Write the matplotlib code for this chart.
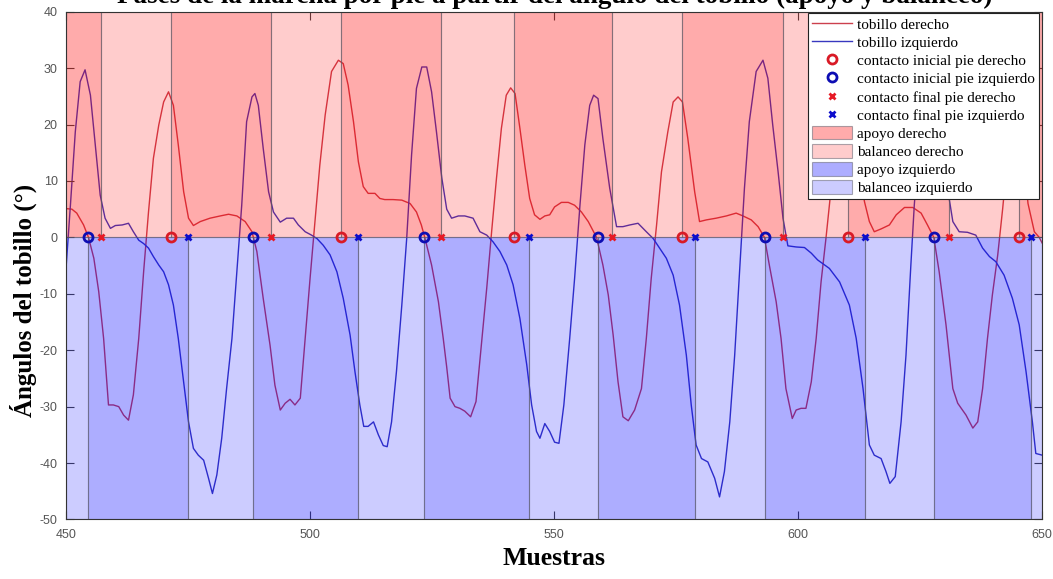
import matplotlib
matplotlib.use('Agg')
import matplotlib.pyplot as plt

plt.rcParams['axes.unicode_minus'] = False

# ankle angle, right foot (sample, degrees)
der_x = [450, 451.2, 452.2, 453.6, 454.6, 455.7, 456.7, 457.7, 458.7, 459.7,
         460.8, 461.8, 462.8, 463.8, 464.9, 465.9, 466.9, 467.9, 469.0, 470.0,
         471.0, 472.0, 473.0, 474.1, 475.1, 476.1, 477.5, 479.5, 481.6, 483.3,
         485.0, 486.7, 488.1, 489.1, 490.4, 491.8, 492.8, 493.9, 494.9, 495.9,
         496.9, 498.0, 499.0, 500.0, 501.0, 502.0, 503.1, 504.4, 505.8, 506.8,
         507.8, 508.9, 509.9, 510.9, 511.9, 513.3, 514.3, 515.3, 517.0, 518.8,
         520.5, 521.8, 522.8, 523.5, 524.9, 526.3, 527.3, 528.0, 528.7, 529.7,
         530.7, 531.7, 532.9, 534.0, 534.9, 536.2, 537.2, 538.2, 539.2, 540.2,
         541.1, 542.0, 543.0, 544.0, 545.0, 546.0, 547.1, 548.1, 549.1, 550.1,
         551.5, 552.9, 554.2, 555.6, 557.0, 558.7, 560.0, 561.1, 562.1, 563.1,
         564.1, 565.2, 566.5, 567.9, 568.9, 569.9, 571.0, 572.0, 573.3, 574.4,
         575.4, 576.3, 577.4, 578.8, 579.8, 581.2, 583.2, 585.3, 587.3, 588.7,
         590.4, 591.8, 593.1, 594.1, 595.5, 596.5, 597.5, 598.8, 599.6, 600.6,
         601.6, 602.7, 603.7, 604.7, 605.7, 606.4, 607.4, 608.4, 609.4, 610.3,
         611.3, 612.4, 613.6, 614.6, 615.6, 617.0, 618.7, 620.1, 621.8, 623.5,
         625.2, 626.5, 627.8, 628.9, 630.3, 631.7, 632.7, 634.4, 635.8, 636.8,
         637.8, 638.8, 639.8, 640.9, 641.9, 642.9, 643.9, 644.7, 645.5, 646.3,
         647.1, 648.4, 649.4, 650]
der_y = [5.1, 5.0, 4.3, 2.2, 0.0, -3.7, -9.6, -17.9, -29.7, -29.7,
         -30.0, -31.5, -32.4, -27.9, -17.9, -6.1, 4.5, 14.0, 19.9, 24.0,
         25.8, 23.4, 16.4, 8.1, 3.4, 2.1, 2.8, 3.4, 3.8, 4.1,
         3.8, 2.8, 1.0, -2.5, -10.8, -19.1, -26.2, -30.6, -29.4, -28.7,
         -29.7, -28.5, -17.9, -7.3, 2.8, 12.8, 21.7, 29.4, 31.4, 30.8,
         27.0, 20.5, 13.4, 9.0, 7.8, 7.8, 6.9, 6.7, 6.7, 6.6,
         6.0, 4.5, 2.2, 0.0, -4.9, -11.4, -18.0, -23.0, -28.5, -30.0,
         -30.3, -30.8, -31.8, -29.1, -20.9, -9.0, 1.0, 10.5, 19.3, 25.2,
         26.5, 25.5, 19.3, 12.8, 6.9, 4.0, 3.2, 3.8, 4.0, 5.4,
         6.2, 6.2, 5.7, 4.5, 2.8, 0.0, -4.9, -10.2, -17.3, -25.6,
         -31.8, -32.5, -30.6, -26.8, -17.9, -7.3, 2.2, 11.6, 18.7, 24.0,
         24.9, 24.0, 17.5, 8.1, 2.8, 3.1, 3.4, 3.8, 4.3, 3.8,
         3.1, 1.9, 0.0, -4.9, -11.4, -17.9, -26.8, -32.1, -30.6, -30.3,
         -30.3, -25.6, -17.9, -7.9, -0.2, 5.7, 14.0, 21.0, 25.0, 25.5,
         20.0, 12.5, 6.3, 2.8, 1.0, 1.5, 2.2, 4.0, 5.3, 5.3,
         4.3, 2.2, 0.0, -6.1, -15.5, -26.8, -29.4, -31.5, -33.8, -32.7,
         -26.8, -17.9, -10.2, -3.1, 5.0, 14.0, 22.0, 25.5, 21.0, 13.0,
         6.0, 1.0, 0.0, -1.0]

# ankle angle, left foot
izq_x = [450.0, 450.9, 451.9, 452.9, 453.9, 455.0, 456.0, 457.0, 458.0, 459.1,
         460.1, 461.5, 462.8, 463.8, 464.9, 465.9, 466.9, 467.9, 469.0, 470.0,
         471.0, 472.0, 473.0, 474.1, 475.1, 476.1, 477.1, 478.2, 479.2, 480.0,
         480.9, 481.9, 482.9, 484.0, 485.0, 486.0, 487.0, 488.1, 488.7, 489.4,
         490.4, 491.5, 492.5, 493.9, 495.2, 496.6, 497.6, 499.0, 500.3, 501.4,
         502.7, 504.1, 505.5, 506.8, 508.2, 509.2, 510.2, 511.0, 511.9, 513.0,
         514.0, 515.0, 515.8, 516.7, 517.7, 518.8, 519.8, 520.8, 521.8, 522.9,
         523.9, 524.9, 525.9, 527.0, 528.0, 529.0, 530.4, 531.7, 533.4, 534.8,
         536.2, 537.5, 538.9, 540.3, 541.6, 543.0, 544.4, 545.4, 546.4, 547.1,
         548.1, 549.1, 550.1, 551.0, 552.0, 553.2, 554.2, 555.3, 556.3, 557.3,
         558.1, 559.0, 560.0, 561.4, 562.8, 564.1, 565.5, 567.2, 568.9, 570.3,
         571.6, 573.0, 574.4, 575.7, 577.1, 578.1, 579.1, 580.2, 581.5, 582.9,
         583.9, 584.9, 586.0, 587.0, 588.0, 589.0, 590.0, 591.4, 592.8, 593.8,
         594.8, 595.9, 596.9, 597.9, 599.6, 601.3, 602.7, 604.0, 606.4, 608.5,
         610.5, 611.9, 613.3, 614.6, 615.6, 617.0, 618.0, 618.8, 619.9, 621.1,
         622.1, 623.1, 623.8, 624.8, 625.8, 626.8, 627.8, 628.8, 629.8, 631.0,
         631.7, 633.0, 634.7, 636.4, 637.8, 639.2, 640.5, 642.2, 643.9, 645.3,
         646.7, 648.0, 648.7, 650.0]
izq_y = [-5.5, 5.7, 18.7, 27.6, 29.7, 25.2, 16.4, 7.5, 3.4, 1.6,
         2.1, 2.2, 2.5, 1.0, -0.5, -1.1, -1.9, -3.4, -4.9, -6.1,
         -8.4, -12.0, -17.9, -25.6, -32.7, -37.4, -38.6, -39.5, -42.7, -45.4,
         -42.1, -35.6, -26.8, -17.9, -6.1, 5.7, 20.5, 24.9, 25.5, 23.4,
         15.8, 8.1, 4.5, 2.7, 3.4, 3.4, 2.2, 1.0, 0.4, -0.2,
         -1.4, -3.1, -6.1, -10.8, -17.3, -23.8, -29.7, -33.5, -33.5, -32.7,
         -35.0, -36.9, -37.1, -32.7, -23.8, -12.0, -0.2, 14.6, 26.4, 30.2,
         30.2, 25.8, 18.7, 10.5, 5.0, 3.4, 3.8, 3.8, 3.4, 1.0,
         0.4, -0.8, -2.5, -4.9, -8.4, -14.4, -22.6, -29.7, -34.4, -35.6,
         -33.0, -34.4, -36.3, -36.5, -29.7, -17.9, -7.3, 5.7, 16.4, 23.4,
         25.2, 24.6, 17.5, 8.7, 1.9, 1.9, 2.2, 2.5, 1.0, -0.2,
         -1.9, -3.7, -6.7, -12.0, -20.9, -29.7, -36.8, -39.2, -39.8, -42.7,
         -46.0, -41.5, -32.7, -20.9, -6.1, 8.7, 20.5, 29.4, 31.4, 28.2,
         19.9, 11.6, 3.4, -1.5, -1.7, -1.8, -2.8, -4.0, -5.5, -7.9,
         -12.0, -17.9, -26.8, -36.8, -38.6, -39.2, -41.5, -43.6, -42.4, -32.7,
         -20.9, -4.9, 5.7, 17.0, 25.0, 29.0, 28.0, 22.0, 14.0, 6.6,
         2.8, 1.0, 0.9, 0.4, -1.9, -3.4, -4.3, -6.7, -10.8, -15.5,
         -23.8, -32.7, -38.3, -38.6]

# gait events (sample index)
ic_der = [471.5, 506.3, 541.7, 576.2, 610.3, 645.2]
ic_izq = [454.6, 488.4, 523.3, 558.9, 593.3, 627.8]
fc_der = [457.1, 492.0, 526.9, 561.9, 596.9, 630.9]
fc_izq = [475.0, 509.9, 544.9, 578.9, 613.8, 647.7]

xmin, xmax = 450, 650
ymin, ymax = -50, 40

serif = 'Liberation Serif'
col_der = (0.80, 0.25, 0.30)
col_izq = (0.22, 0.22, 0.75)
edge = (0.35, 0.35, 0.40, 0.5)

fig = plt.figure(figsize=(10.53, 5.79), dpi=100)
ax = fig.add_axes([0.0627, 0.1028, 0.927, 0.877])

ax.plot(der_x, der_y, color=col_der, lw=1.0, zorder=1, label='tobillo derecho')
ax.plot(izq_x, izq_y, color=col_izq, lw=1.0, zorder=1, label='tobillo izquierdo')


def phases(ic, fc):
    # stance: initial contact -> final contact, swing: final -> initial
    ev = sorted([(x, 'ic') for x in ic] + [(x, 'fc') for x in fc])
    stance, swing = [], []
    start = xmin
    cur = 'stance' if ev[0][1] == 'fc' else 'swing'
    for x, kind in ev:
        (stance if cur == 'stance' else swing).append((start, x))
        start = x
        cur = 'swing' if kind == 'fc' else 'stance'
    (stance if cur == 'stance' else swing).append((start, xmax))
    return stance, swing


st_d, sw_d = phases(ic_der, fc_der)
st_i, sw_i = phases(ic_izq, fc_izq)

band_specs = [
    (st_d, 0, ymax, (1, 0, 0, 0.33), 'apoyo derecho'),
    (sw_d, 0, ymax, (1, 0, 0, 0.20), 'balanceo derecho'),
    (st_i, ymin, 0, (0, 0, 1, 0.32), 'apoyo izquierdo'),
    (sw_i, ymin, 0, (0, 0, 1, 0.20), 'balanceo izquierdo'),
]
for spans, lo, hi, fc, lab in band_specs:
    ax.bar([a for a, b in spans], hi - lo, width=[b - a for a, b in spans],
           bottom=lo, align='edge', facecolor=fc, edgecolor=edge,
           linewidth=0.8, zorder=2, label=lab)

zeros = lambda v: [0] * len(v)
ax.plot(ic_der, zeros(ic_der), 'o', ms=6.5, mfc='none', mec=(0.85, 0.1, 0.15),
        mew=2, ls='none', zorder=4, label='contacto inicial pie derecho')
ax.plot(ic_izq, zeros(ic_izq), 'o', ms=6.5, mfc='none', mec=(0.05, 0.05, 0.7),
        mew=2, ls='none', zorder=4, label='contacto inicial pie izquierdo')
ax.plot(fc_der, zeros(fc_der), 'x', ms=4, mec=(0.9, 0.1, 0.15), mew=2,
        ls='none', zorder=4, label='contacto final pie derecho')
ax.plot(fc_izq, zeros(fc_izq), 'x', ms=4, mec=(0.05, 0.05, 0.8), mew=2,
        ls='none', zorder=4, label='contacto final pie izquierdo')

ax.set_xlim(xmin, xmax)
ax.set_ylim(ymin, ymax)
ax.set_xticks(range(450, 651, 50))
ax.set_yticks(range(-50, 41, 10))
ax.tick_params(direction='in', top=True, right=True, length=6, width=0.8,
               colors='#444444', labelcolor='#555555', labelsize=9)
ax.tick_params(axis='x', pad=7)
ax.tick_params(axis='y', pad=6)
for lab in ax.get_xticklabels() + ax.get_yticklabels():
    lab.set_family('Liberation Sans')
for s in ax.spines.values():
    s.set_color('#333333')
    s.set_linewidth(0.8)

ax.set_xlabel('Muestras', family=serif, fontsize=18.5, fontweight='bold', labelpad=4)
ax.set_ylabel('Ángulos del tobillo (°)', family=serif, fontsize=18,
              fontweight='bold')
ax.yaxis.set_label_coords(-0.0295, 0.432)

fig.text(0.527, 0.995, 'Fases de la marcha por pie a partir del ángulo del tobillo (apoyo y balanceo)',
         family=serif, fontsize=19.5, fontweight='bold', ha='center', va='baseline')

h, l = ax.get_legend_handles_labels()
order = ['tobillo derecho', 'tobillo izquierdo',
         'contacto inicial pie derecho', 'contacto inicial pie izquierdo',
         'contacto final pie derecho', 'contacto final pie izquierdo',
         'apoyo derecho', 'balanceo derecho', 'apoyo izquierdo', 'balanceo izquierdo']
hd = dict(zip(l, h))
leg = ax.legend([hd[k] for k in order], order, loc='upper right',
                bbox_to_anchor=(0.998, 1), borderaxespad=0.1, fancybox=False,
                framealpha=1, edgecolor='#222222', prop={'family': serif, 'size': 11},
                handlelength=2.6, handleheight=1.0, labelspacing=0.2,
                handletextpad=0.35, borderpad=0.25)
leg.get_frame().set_linewidth(0.8)
leg.set_zorder(10)

fig.savefig('out.png', dpi=100)
